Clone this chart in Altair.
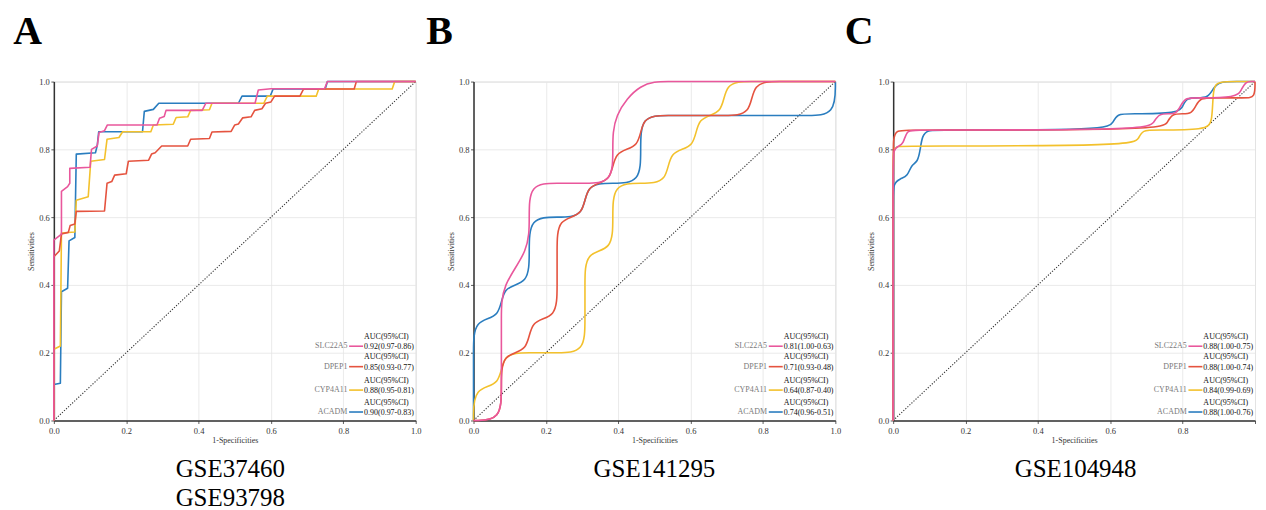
import altair as alt
import pandas as pd

GENES = ["SLC22A5", "DPEP1", "CYP4A11", "ACADM"]
COLORS = {"SLC22A5": "#E9579C", "DPEP1": "#E5533F", "CYP4A11": "#F3C12C", "ACADM": "#2A7DBF"}
DRAW_ORDER = ["ACADM", "CYP4A11", "DPEP1", "SLC22A5"]

PANEL_LETTERS = ["A", "B", "C"]
PANEL_TITLES = ["GSE37460\nGSE93798", "GSE141295", "GSE104948"]
AUC_HEADER = "AUC(95%CI)"
AUC_LABELS = {
    "A": ["0.92(0.97-0.86)", "0.85(0.93-0.77)", "0.88(0.95-0.81)", "0.90(0.97-0.83)"],
    "B": ["0.81(1.00-0.63)", "0.71(0.93-0.48)", "0.64(0.87-0.40)", "0.74(0.96-0.51)"],
    "C": ["0.88(1.00-0.75)", "0.88(1.00-0.74)", "0.84(0.99-0.69)", "0.88(1.00-0.76)"],
}
TICKS = [0.0, 0.2, 0.4, 0.6, 0.8, 1.0]
DIAG_X = [0.0, 1.0]
DIAG_Y = [0.0, 1.0]

# ---- ROC points: (1-specificity, sensitivity) ----
A_SLC22A5_FPR = [0, 0, 0.015, 0.021, 0.021, 0.038, 0.044, 0.044, 0.100, 0.104, 0.120, 0.125, 0.140, 0.148,
                 0.285, 0.292, 0.305, 0.310, 0.410, 0.420, 0.556, 0.565, 0.600, 0.748, 0.756, 1.0]
A_SLC22A5_TPR = [0, 0.532, 0.545, 0.550, 0.676, 0.690, 0.700, 0.744, 0.747, 0.800, 0.810, 0.850, 0.855, 0.872,
                 0.872, 0.892, 0.897, 0.915, 0.915, 0.936, 0.936, 0.975, 0.979, 0.979, 1.0, 1.0]
A_DPEP1_FPR = [0, 0, 0.015, 0.021, 0.040, 0.045, 0.058, 0.062, 0.140, 0.147, 0.160, 0.168, 0.200, 0.206,
               0.262, 0.270, 0.280, 0.298, 0.370, 0.378, 0.430, 0.437, 0.490, 0.500, 0.510, 0.522,
               0.545, 0.555, 0.575, 0.585, 0.600, 0.610, 0.680, 0.690, 0.830, 0.836, 1.0]
A_DPEP1_TPR = [0, 0.483, 0.500, 0.550, 0.555, 0.575, 0.580, 0.617, 0.618, 0.700, 0.705, 0.724, 0.728, 0.765,
               0.768, 0.786, 0.790, 0.810, 0.810, 0.830, 0.832, 0.851, 0.853, 0.872, 0.875, 0.893,
               0.896, 0.915, 0.920, 0.936, 0.940, 0.957, 0.957, 0.978, 0.978, 1.0, 1.0]
A_CYP4A11_FPR = [0, 0, 0.018, 0.021, 0.058, 0.062, 0.095, 0.102, 0.140, 0.147, 0.180, 0.190, 0.268, 0.275,
                 0.330, 0.338, 0.370, 0.378, 0.430, 0.437, 0.580, 0.590, 0.725, 0.732, 0.935, 0.942, 1.0]
A_CYP4A11_TPR = [0, 0.210, 0.220, 0.553, 0.556, 0.650, 0.660, 0.765, 0.770, 0.830, 0.835, 0.852, 0.852, 0.872,
                 0.874, 0.894, 0.896, 0.915, 0.917, 0.936, 0.936, 0.957, 0.957, 0.978, 0.978, 1.0, 1.0]
A_ACADM_FPR = [0, 0, 0.018, 0.021, 0.038, 0.042, 0.058, 0.062, 0.115, 0.120, 0.124, 0.245, 0.250, 0.275,
               0.290, 0.510, 0.520, 0.598, 0.606, 0.750, 0.756, 1.0]
A_ACADM_TPR = [0, 0.106, 0.110, 0.380, 0.390, 0.530, 0.540, 0.786, 0.790, 0.812, 0.852, 0.852, 0.912, 0.918,
               0.936, 0.936, 0.957, 0.957, 0.978, 0.978, 1.0, 1.0]

B_SLC22A5_FPR = [0, 0.077, 0.077, 0.077, 0.077, 0.077, 0.154, 0.154, 0.154, 0.231, 0.308, 0.385, 0.385, 0.385,
                 0.462, 0.538, 0.615, 0.692, 0.769, 0.846, 0.923, 1.0]
B_SLC22A5_TPR = [0, 0, 0.1, 0.2, 0.3, 0.4, 0.5, 0.6, 0.7, 0.7, 0.7, 0.7, 0.8, 0.9,
                 1.0, 1.0, 1.0, 1.0, 1.0, 1.0, 1.0, 1.0]
B_DPEP1_FPR = [0, 0.077, 0.077, 0.077, 0.154, 0.154, 0.231, 0.231, 0.231, 0.231, 0.308, 0.308, 0.385, 0.385,
               0.462, 0.462, 0.538, 0.615, 0.692, 0.769, 0.769, 0.846, 0.923, 1.0]
B_DPEP1_TPR = [0, 0, 0.1, 0.2, 0.2, 0.3, 0.3, 0.4, 0.5, 0.6, 0.6, 0.7, 0.7, 0.8,
               0.8, 0.9, 0.9, 0.9, 0.9, 0.9, 1.0, 1.0, 1.0, 1.0]
B_CYP4A11_FPR = [0, 0, 0.077, 0.077, 0.154, 0.231, 0.308, 0.308, 0.308, 0.308, 0.385, 0.385, 0.385, 0.462,
                 0.538, 0.538, 0.615, 0.615, 0.692, 0.692, 0.769, 0.846, 0.923, 1.0]
B_CYP4A11_TPR = [0, 0.1, 0.1, 0.2, 0.2, 0.2, 0.2, 0.3, 0.4, 0.5, 0.5, 0.6, 0.7, 0.7,
                 0.7, 0.8, 0.8, 0.9, 0.9, 1.0, 1.0, 1.0, 1.0, 1.0]
B_ACADM_FPR = [0, 0, 0, 0, 0.077, 0.077, 0.154, 0.154, 0.154, 0.231, 0.308, 0.308, 0.385, 0.462,
               0.462, 0.462, 0.538, 0.615, 0.692, 0.769, 0.846, 0.923, 1.0, 1.0]
B_ACADM_TPR = [0, 0.1, 0.2, 0.3, 0.3, 0.4, 0.4, 0.5, 0.6, 0.6, 0.6, 0.7, 0.7, 0.7,
               0.8, 0.9, 0.9, 0.9, 0.9, 0.9, 0.9, 0.9, 0.9, 1.0]

C_SLC22A5_FPR = [0, 0, 0, 0.015, 0.028, 0.037, 0.060, 0.705, 0.720, 0.735, 0.760, 0.783, 0.795, 0.808,
                 0.835, 0.950, 0.962, 0.975, 0.990, 1.0]
C_SLC22A5_TPR = [0, 0.750, 0.800, 0.810, 0.815, 0.857, 0.857, 0.857, 0.880, 0.905, 0.905, 0.905, 0.930, 0.952,
                 0.952, 0.952, 0.976, 1.0, 1.0, 1.0]
C_DPEP1_FPR = [0, 0, 0, 0.008, 0.050, 0.745, 0.758, 0.770, 0.800, 0.825, 0.837, 0.850, 0.880, 0.975, 1.0, 1.0]
C_DPEP1_TPR = [0, 0.750, 0.835, 0.857, 0.857, 0.857, 0.880, 0.905, 0.905, 0.905, 0.930, 0.952, 0.952, 0.952,
               0.952, 1.0]
C_CYP4A11_FPR = [0, 0, 0, 0.010, 0.050, 0.665, 0.678, 0.690, 0.720, 0.865, 0.883, 0.883, 0.900, 0.950, 1.0]
C_CYP4A11_TPR = [0, 0.750, 0.800, 0.810, 0.810, 0.810, 0.833, 0.857, 0.857, 0.857, 0.880, 0.985, 1.0, 1.0, 1.0]
C_ACADM_FPR = [0, 0, 0, 0.020, 0.040, 0.050, 0.068, 0.075, 0.080, 0.095, 0.130, 0.595, 0.607, 0.620,
               0.650, 0.790, 0.801, 0.812, 0.840, 0.870, 0.885, 0.900, 0.950, 1.0]
C_ACADM_TPR = [0, 0.650, 0.700, 0.714, 0.720, 0.755, 0.762, 0.800, 0.840, 0.857, 0.857, 0.857, 0.880, 0.905,
               0.905, 0.905, 0.930, 0.952, 0.952, 0.952, 0.980, 1.0, 1.0, 1.0]

ROC = {
    "A": {"SLC22A5": (A_SLC22A5_FPR, A_SLC22A5_TPR), "DPEP1": (A_DPEP1_FPR, A_DPEP1_TPR),
          "CYP4A11": (A_CYP4A11_FPR, A_CYP4A11_TPR), "ACADM": (A_ACADM_FPR, A_ACADM_TPR)},
    "B": {"SLC22A5": (B_SLC22A5_FPR, B_SLC22A5_TPR), "DPEP1": (B_DPEP1_FPR, B_DPEP1_TPR),
          "CYP4A11": (B_CYP4A11_FPR, B_CYP4A11_TPR), "ACADM": (B_ACADM_FPR, B_ACADM_TPR)},
    "C": {"SLC22A5": (C_SLC22A5_FPR, C_SLC22A5_TPR), "DPEP1": (C_DPEP1_FPR, C_DPEP1_TPR),
          "CYP4A11": (C_CYP4A11_FPR, C_CYP4A11_TPR), "ACADM": (C_ACADM_FPR, C_ACADM_TPR)},
}
CURVE_STYLE = {"A": "linear", "B": "basis", "C": "basis"}

# ---- layout / style ----
W, H = 363, 340
SERIF = "Liberation Serif"
LETTER_X = {"A": -40.8, "B": -47.5, "C": -48.5}
TITLE_DX = {"A": -4.5, "B": 0.0, "C": 1.5}
LEGEND_VY = [266.5, 287.0, 310.5, 332.5]
ONE = pd.DataFrame({"k": [0]})


def make_axis(title, last_label=True, orient="bottom"):
    kw = dict(values=TICKS, format=".1f", title=title, grid=True, gridColor="#e4e4e4", gridWidth=0.8,
              domainColor="#333333", domainWidth=1.5, tickColor="#333333", tickSize=3, tickWidth=0.8,
              labelFont=SERIF, labelFontSize=8.5, labelColor="#333333", titleFont=SERIF, titleFontSize=8,
              titleFontWeight="normal", titleColor="#333333", labelFlush=False, labelOverlap=False)
    if orient == "bottom":
        kw.update(labelPadding=3, titlePadding=2)
    else:
        kw.update(labelPadding=1.5, titlePadding=3)
    if not last_label:
        kw["labelExpr"] = "datum.value == 1 ? '' : datum.label"
    return alt.Axis(**kw)


def panel(letter, title):
    scale = alt.Scale(domain=[0, 1], nice=False, zero=False)
    diag = alt.Chart(pd.DataFrame({"fpr": DIAG_X, "tpr": DIAG_Y})).mark_line(
        color="#333333", strokeWidth=1.1, strokeDash=[1.2, 1.6]
    ).encode(
        x=alt.X("fpr:Q", scale=scale, axis=make_axis("1-Specificities", last_label=(letter != "C"))),
        y=alt.Y("tpr:Q", scale=scale, axis=make_axis("Sensitivities", orient="left")),
    )
    layers = [diag]
    for gene in DRAW_ORDER:
        fpr, tpr = ROC[letter][gene]
        df = pd.DataFrame({"fpr": fpr, "tpr": tpr, "i": list(range(len(fpr)))})
        layers.append(
            alt.Chart(df).mark_line(interpolate=CURVE_STYLE[letter], color=COLORS[gene], strokeWidth=1.6,
                                    strokeJoin="round").encode(
                x="fpr:Q", y="tpr:Q", order="i:Q"
            )
        )
    # legend block
    for r, gene in enumerate(GENES):
        vy = LEGEND_VY[r]
        layers.append(alt.Chart(ONE).mark_text(align="right", baseline="middle", font=SERIF, fontSize=8,
                                               color="#7a7a7a").encode(
            x=alt.value(W - 68.5), y=alt.value(vy - 1), text=alt.value(gene)))
        layers.append(alt.Chart(ONE).mark_rule(color=COLORS[gene], strokeWidth=1.6).encode(
            x=alt.value(W - 66.8), x2=alt.value(W - 52.8), y=alt.value(vy - 1)))
        layers.append(alt.Chart(ONE).mark_text(align="left", baseline="middle", font=SERIF, fontSize=8,
                                               color="#111111").encode(
            x=alt.value(W - 51.8), y=alt.value(vy - 10.5), text=alt.value(AUC_HEADER)))
        layers.append(alt.Chart(ONE).mark_text(align="left", baseline="middle", font=SERIF, fontSize=8,
                                               color="#111111").encode(
            x=alt.value(W - 51.8), y=alt.value(vy), text=alt.value(AUC_LABELS[letter][r])))
    # panel letter
    layers.append(alt.Chart(ONE).mark_text(align="left", baseline="alphabetic", font=SERIF, fontSize=40,
                                           fontWeight="bold", color="#000000").encode(
        x=alt.value(LETTER_X[letter]), y=alt.value(-37.4), text=alt.value(letter)))
    # dataset caption
    layers.append(alt.Chart(ONE).mark_text(align="center", baseline="alphabetic", font=SERIF, fontSize=25,
                                           lineBreak="\n", lineHeight=29.5, color="#000000").encode(
        x=alt.value(W / 2 + TITLE_DX[letter]), y=alt.value(396.3), text=alt.value(title)))
    return alt.layer(*layers).properties(width=W, height=H)


panels = [panel(l, t) for l, t in zip(PANEL_LETTERS, PANEL_TITLES)]
chart = alt.hconcat(*panels, spacing=58, bounds="flush").properties(
    padding={"left": 4, "top": 3, "right": 0, "bottom": 0}
).configure_view(stroke="#808080", strokeWidth=1.3).configure(background="white")

chart.save("out.html", embed_options={"renderer": "svg", "actions": False})
